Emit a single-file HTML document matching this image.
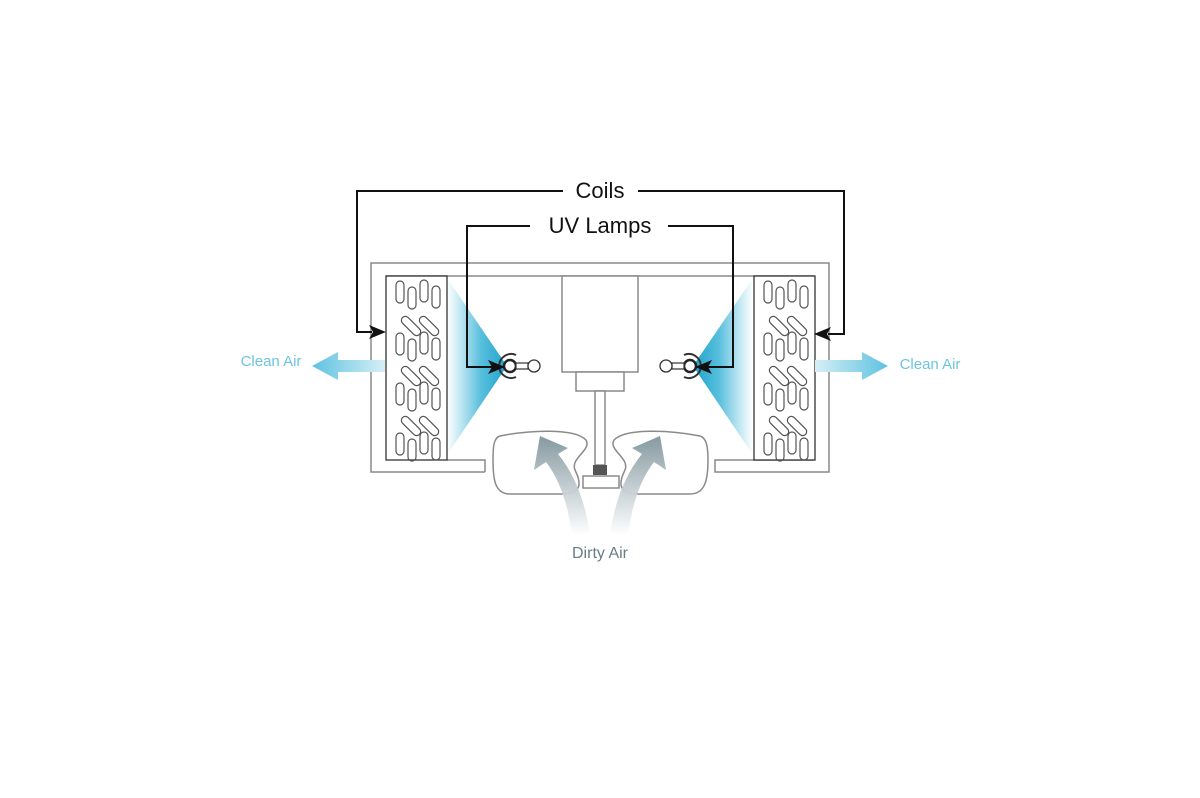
<!DOCTYPE html>
<html><head><style>
html,body{margin:0;padding:0;background:#fff;}
svg{display:block;}
</style></head><body>
<svg width="1200" height="798" viewBox="0 0 1200 798" xmlns="http://www.w3.org/2000/svg">
<defs>
<linearGradient id="coneL" x1="1" y1="0" x2="0" y2="0">
<stop offset="0" stop-color="#1aa3cc"/><stop offset="0.45" stop-color="#5cc0de"/><stop offset="1" stop-color="#fff" stop-opacity="0.9"/>
</linearGradient>
<linearGradient id="coneR" x1="0" y1="0" x2="1" y2="0">
<stop offset="0" stop-color="#1aa3cc"/><stop offset="0.45" stop-color="#5cc0de"/><stop offset="1" stop-color="#fff" stop-opacity="0.9"/>
</linearGradient>
<linearGradient id="airL" x1="1" y1="0" x2="0" y2="0">
<stop offset="0" stop-color="#d6eef6"/><stop offset="1" stop-color="#5ec2e0"/>
</linearGradient>
<linearGradient id="airR" x1="0" y1="0" x2="1" y2="0">
<stop offset="0" stop-color="#d6eef6"/><stop offset="1" stop-color="#5ec2e0"/>
</linearGradient>
<linearGradient id="dirty" x1="0" y1="1" x2="0" y2="0">
<stop offset="0" stop-color="#fff"/><stop offset="1" stop-color="#7f949c"/>
</linearGradient>
<g id="coil">
<rect x="0" y="0" width="61" height="184" fill="#fff" stroke="#333" stroke-width="1.3"/>
<g fill="none" stroke="#555" stroke-width="1.2">
<g id="vg">
<rect x="10" y="5" width="8" height="22" rx="4"/>
<rect x="22" y="11" width="8" height="22" rx="4"/>
<rect x="34" y="4" width="8" height="22" rx="4"/>
<rect x="46" y="10" width="8" height="22" rx="4"/>
</g>
<g id="dg">
<rect x="13" y="46" width="24" height="8" rx="4" transform="rotate(45 25 50)"/>
<rect x="31" y="46" width="24" height="8" rx="4" transform="rotate(45 43 50)"/>
</g>
<use href="#vg" y="52"/><use href="#dg" y="50"/>
<use href="#vg" y="102"/><use href="#dg" y="100"/>
<use href="#vg" y="152"/>
</g>
</g>
<g id="lamp">
<path d="M6,-11 A12,12 0 1 0 6,11" fill="none" stroke="#333" stroke-width="2"/>
<circle cx="0" cy="0" r="6" fill="#fff" stroke="#222" stroke-width="2.5"/>
<rect x="6" y="-3" width="12" height="6" fill="#fff" stroke="#333" stroke-width="1.2"/>
<circle cx="24" cy="0" r="6" fill="#fff" stroke="#333" stroke-width="1.3"/>
</g>
</defs>

<path d="M485,472 L371,472 L371,263 L829,263 L829,472 L715,472 L715,460 L814,460" fill="none" stroke="#8a8a8a" stroke-width="1.5"/>
<path d="M485,472 L485,460 L447,460" fill="none" stroke="#8a8a8a" stroke-width="1.5"/>
<line x1="386" y1="276" x2="814" y2="276" stroke="#8a8a8a" stroke-width="1.5"/>

<polygon points="447,278 507,366 447,455" fill="url(#coneL)"/>
<polygon points="753,278 693,366 753,455" fill="url(#coneR)"/>

<use href="#coil" x="386" y="276"/>
<use href="#coil" x="754" y="276"/>

<g fill="#fff" stroke="#8a8a8a" stroke-width="1.5">
<rect x="562" y="276" width="76" height="96"/>
<rect x="576" y="372" width="48" height="19"/>
<rect x="595" y="391" width="10" height="74"/>
<rect x="583" y="476" width="36" height="12"/>
</g>
<rect x="593" y="465" width="14" height="10" fill="#555"/>

<path d="M500,436 C530,430 575,428 586,440 C592,450 570,458 575,470 C580,480 585,495 560,494 L510,494 C495,494 493,480 493,460 C493,445 494,438 500,436 Z" fill="#fff" stroke="#8a8a8a" stroke-width="1.5"/>
<path d="M700,436 C670,430 625,428 614,440 C608,450 630,458 625,470 C620,480 615,495 640,494 L690,494 C705,494 708,480 708,460 C708,445 706,438 700,436 Z" fill="#fff" stroke="#8a8a8a" stroke-width="1.5"/>

<path d="M572,535 C568,505 560,480 546,462 L534,470 L540,436 L568,448 L558,454 C576,476 586,505 590,535 Z" fill="url(#dirty)" opacity="0.95"/>
<path d="M628,535 C632,505 640,480 654,462 L666,470 L660,436 L632,448 L642,454 C624,476 614,505 610,535 Z" fill="url(#dirty)" opacity="0.95"/>

<use href="#lamp" x="510" y="366"/>
<use href="#lamp" transform="translate(690,366) scale(-1,1)"/>

<polygon points="385,360 338,360 338,352 312,366 338,380 338,372 385,372" fill="url(#airL)"/>
<polygon points="815,360 862,360 862,352 888,366 862,380 862,372 815,372" fill="url(#airR)"/>

<g fill="none" stroke="#111" stroke-width="2">
<polyline points="563,191 357,191 357,332 372,332"/>
<polyline points="638,191 844,191 844,334 828,334"/>
<polyline points="530,226 467,226 467,367 492,367"/>
<polyline points="668,226 733,226 733,367 708,367"/>
</g>
<g fill="#111">
<polygon points="386,332 369,325 373,332 369,339"/>
<polygon points="814,334 831,327 827,334 831,341"/>
<polygon points="505,367 488,360 492,367 488,374"/>
<polygon points="695,367 712,360 708,367 712,374"/>
</g>

<g font-family="Liberation Sans, sans-serif">
<text x="600" y="198" font-size="22" text-anchor="middle" fill="#111">Coils</text>
<text x="600" y="233" font-size="22" text-anchor="middle" fill="#111">UV Lamps</text>
<text x="271" y="366" font-size="15" text-anchor="middle" fill="#6cc4e0">Clean Air</text>
<text x="930" y="369" font-size="15" text-anchor="middle" fill="#6cc4e0">Clean Air</text>
<text x="600" y="558" font-size="16" text-anchor="middle" fill="#6a7c84">Dirty Air</text>
</g>
</svg>
</body></html>
